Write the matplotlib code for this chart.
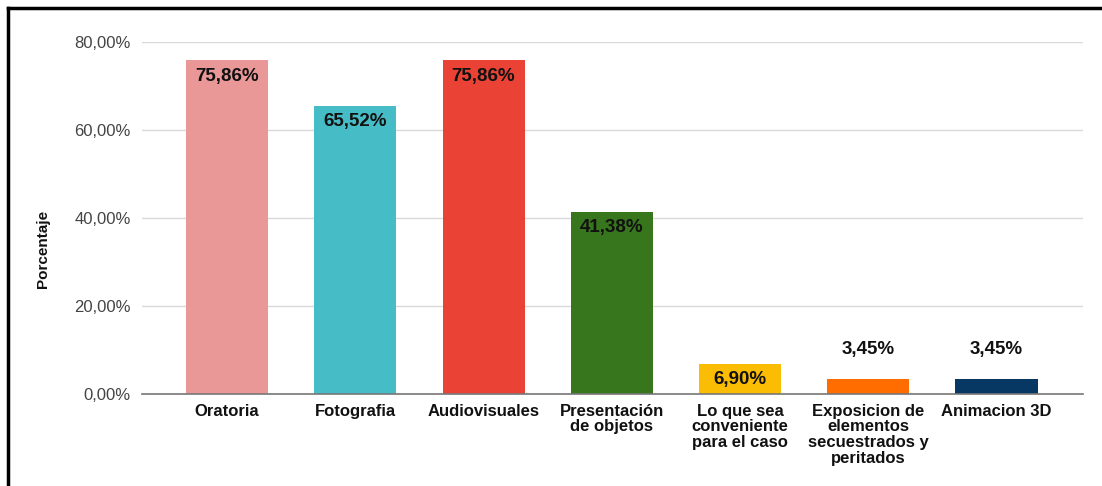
import matplotlib.pyplot as plt
import numpy as np
from matplotlib.lines import Line2D

plt.rcParams['font.family'] = ['Liberation Sans', 'DejaVu Sans']

categories = ['Oratoria', 'Fotografia', 'Audiovisuales', 'Presentación\nde objetos',
              'Lo que sea\nconveniente\npara el caso',
              'Exposicion de\nelementos\nsecuestrados y\nperitados', 'Animacion 3D']
values = [75.86, 65.52, 75.86, 41.38, 6.90, 3.45, 3.45]
labels = ['75,86%', '65,52%', '75,86%', '41,38%', '6,90%', '3,45%', '3,45%']
colors = ['#E99797', '#46BDC6', '#EA4335', '#38761D', '#FBBC04', '#FF6D01', '#073763']
yticks = [0, 20, 40, 60, 80]
ytick_labels = ['0,00%', '20,00%', '40,00%', '60,00%', '80,00%']

fig = plt.figure(figsize=(11.02, 4.86), dpi=100)
ax = fig.add_axes([0.1289, 0.1893, 0.8539, 0.7243])

x = np.arange(len(values))
ax.bar(x, values, width=0.64, color=colors, zorder=3)

for xi, v, lab in zip(x, values, labels):
    # small bars get their label above, the rest inside near the top
    off = -11.5 if v > 5 else 21
    ax.annotate(lab, (xi, v), xytext=(0, off), textcoords='offset points',
                ha='center', va='center', fontsize=13.5, fontweight='bold',
                color='#111111', zorder=4)

ax.set_xlim(-0.663, 6.675)
ax.set_ylim(0, 80)
ax.set_yticks(yticks)
ax.set_yticklabels(ytick_labels, fontsize=12, color='#444444')
ax.set_xticks(x)
ax.set_xticklabels(categories, fontsize=12, fontweight='bold', color='#111111',
                   linespacing=1.05, va='top')
ax.tick_params(axis='both', length=0)
ax.tick_params(axis='x', pad=7)
ax.tick_params(axis='y', pad=8)
ax.grid(axis='y', color='#D9D9D9', linewidth=1, zorder=0)
for s in ['top', 'right', 'left']:
    ax.spines[s].set_visible(False)
ax.spines['bottom'].set_color('#777777')
ax.spines['bottom'].set_linewidth(1.2)
ax.spines['bottom'].set_zorder(5)

fig.text(0.039, 0.488, 'Porcentaje', rotation=90, ha='center', va='center',
         fontsize=11, fontweight='bold', color='#111111')

# frame lines at top and left
fig.add_artist(Line2D([0.0073, 1.0], [0.9835, 0.9835], transform=fig.transFigure,
                      color='black', linewidth=2.5))
fig.add_artist(Line2D([0.0073, 0.0073], [0.0, 0.9835], transform=fig.transFigure,
                      color='black', linewidth=2.5))

fig.savefig('out.png', dpi=100, facecolor='white')
